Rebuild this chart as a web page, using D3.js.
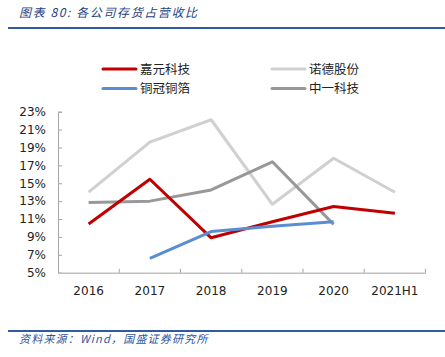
<!DOCTYPE html>
<html><head><meta charset="utf-8">
<script src="https://cdn.jsdelivr.net/npm/d3@7"></script>
<style>
body{margin:0;background:#fff;}
svg{display:block;font-family:"Noto Sans CJK SC","DejaVu Sans",sans-serif;}
</style></head>
<body><svg id="c" width="445" height="357"></svg>
<script>
const categories = ["2016","2017","2018","2019","2020","2021H1"];
const yTicks = [5,7,9,11,13,15,17,19,21,23];
const seriesNames = ["诺德股份","中一科技","嘉元科技","铜冠铜箔"];
const nuode   = [14.0, 19.6, 22.1, 12.65, 17.8, 14.0];
const zhongyi = [12.85, 13.0, 14.25, 17.4, 10.4, null];
const jiayuan = [10.45, 15.45, 8.9, 10.7, 12.4, 11.65];
const tongguan= [null, 6.6, 9.6, 10.2, 10.7, null];
const colors = {"诺德股份":"#D0D0D0","中一科技":"#989898","嘉元科技":"#C00000","铜冠铜箔":"#5A8ED0"};
const values = {"诺德股份":nuode,"中一科技":zhongyi,"嘉元科技":jiayuan,"铜冠铜箔":tongguan};

const svg = d3.select("#c");
// title
svg.append("text").attr("x",19).attr("y",17).attr("font-size",12).attr("font-style","italic")
  .attr("letter-spacing",1.6).attr("fill","#1F3F7F").text("图表 80:  各公司存货占营收比");
svg.append("line").attr("x1",8).attr("x2",445).attr("y1",28).attr("y2",28)
  .attr("stroke","#2E5C9E").attr("stroke-width",2);
svg.append("line").attr("x1",8).attr("x2",445).attr("y1",331).attr("y2",331)
  .attr("stroke","#2E5C9E").attr("stroke-width",2);
svg.append("text").attr("x",19).attr("y",343).attr("font-size",11).attr("font-style","italic")
  .attr("letter-spacing",1.2).attr("fill","#2F55A0").text("资料来源：Wind，国盛证券研究所");

const x = d3.scaleBand().domain(categories).range([58,425.5]);
const y = d3.scaleLinear().domain([5,23]).range([272.7,111.7]);

// y axis
const ya = svg.append("g").attr("transform","translate(58,0)")
  .call(d3.axisRight(y).tickValues(yTicks).tickSize(4).tickFormat(d=>d+"%"));
ya.select(".domain").attr("stroke","#A6A6A6");
ya.selectAll(".tick line").attr("stroke","#A6A6A6");
ya.selectAll(".tick text").attr("x",-12).attr("text-anchor","end").attr("font-size",12)
  .attr("fill","#222").attr("font-family","'DejaVu Sans',sans-serif");

// x axis
const xa = svg.append("g").attr("transform","translate(0,272.7)")
  .call(d3.axisTop(x).tickSize(0).tickSizeOuter(0));
xa.select(".domain").attr("stroke","#BFBFBF").attr("stroke-width",1.5);
xa.selectAll(".tick text").attr("y",18).attr("dy","0.35em").attr("font-size",12)
  .attr("fill","#222").attr("font-family","'DejaVu Sans',sans-serif");
// category separator ticks
const seps = categories.map(c=>x(c)).concat([x.range()[1]]).slice(1);
svg.append("g").selectAll("line").data(seps).join("line")
  .attr("x1",d=>d).attr("x2",d=>d).attr("y1",268.7).attr("y2",272.7)
  .attr("stroke","#A6A6A6");

// lines
const line = d3.line().defined(d=>d.v!=null)
  .x(d=>x(d.c)+x.bandwidth()/2).y(d=>y(d.v));
seriesNames.forEach(n=>{
  const data = categories.map((c,i)=>({c,v:values[n][i]}));
  svg.append("path").datum(data).attr("d",line).attr("fill","none")
    .attr("stroke",colors[n]).attr("stroke-width",3).attr("stroke-linejoin","round");
});

// legend
const legend = [
  {n:"嘉元科技",x:103,y:69},{n:"诺德股份",x:272,y:69},
  {n:"铜冠铜箔",x:103,y:88.5},{n:"中一科技",x:272,y:88.5}];
const lg = svg.append("g").selectAll("g").data(legend).join("g");
lg.append("line").attr("x1",d=>d.x).attr("x2",d=>d.x+33).attr("y1",d=>d.y).attr("y2",d=>d.y)
  .attr("stroke",d=>colors[d.n]).attr("stroke-width",3).attr("stroke-linecap","round");
lg.append("text").attr("x",d=>d.x+37).attr("y",d=>d.y).attr("dy","0.36em")
  .attr("font-size",12.5).attr("fill","#222").text(d=>d.n);
</script></body></html>
